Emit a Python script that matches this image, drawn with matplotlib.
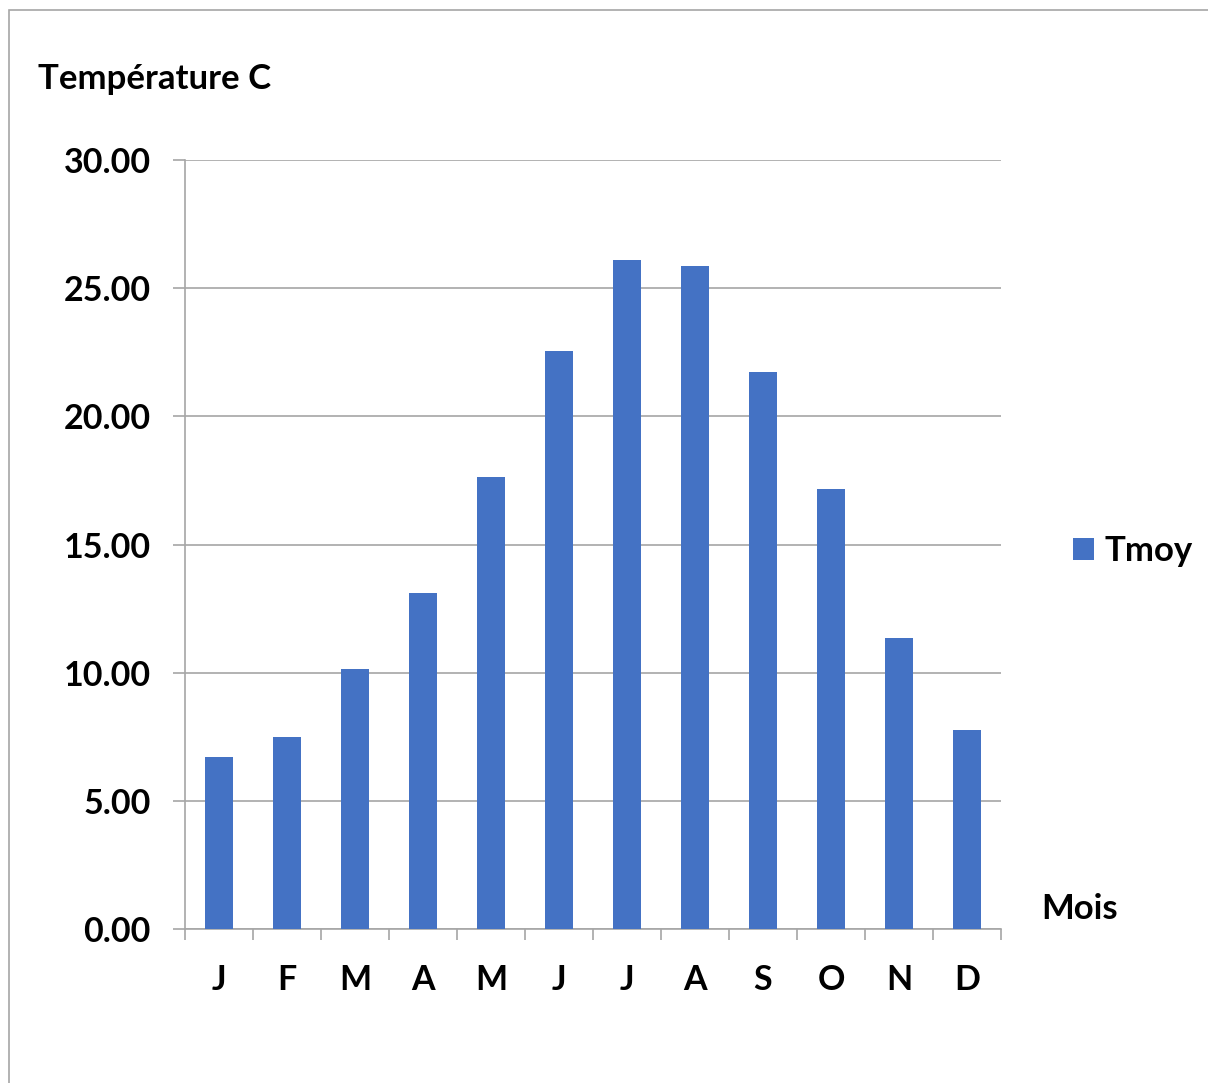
import numpy as np
import matplotlib.pyplot as plt
from matplotlib.patches import Rectangle

# Monthly mean temperatures
mois = ['J', 'F', 'M', 'A', 'M', 'J', 'J', 'A', 'S', 'O', 'N', 'D']
tmoy = [6.71, 7.49, 10.14, 13.11, 17.63, 22.55, 26.10, 25.87, 21.73, 17.17, 11.35, 7.76]
y_ticks = [0, 5, 10, 15, 20, 25, 30]

plt.rcParams['font.family'] = ['Lato', 'DejaVu Sans']
plt.rcParams['font.weight'] = 'bold'

W, H = 1208, 1083
fs = 24.5
fig = plt.figure(figsize=(W / 100, H / 100), dpi=100)
ax = fig.add_axes([185 / W, 1 - 929 / H, (1001 - 185) / W, (929 - 160) / H])

grey = '#a6a6a6'
x = np.arange(len(mois))
ax.bar(x, tmoy, width=0.4, color='#4472C4', label='Tmoy', zorder=3)

ax.set_xlim(-0.5, len(mois) - 0.5)
ax.set_ylim(0, 30)
ax.set_yticks(y_ticks)
ax.set_yticklabels([f"{v:.2f}" for v in y_ticks], fontsize=fs, fontweight='bold')
ax.yaxis.grid(True, color=grey, linewidth=1.2, zorder=0)

# boundaries as major ticks, labels on minor ticks
ax.set_xticks(np.arange(-0.5, len(mois), 1.0))
ax.set_xticklabels([])
ax.set_xticks(x, minor=True)
ax.set_xticklabels(mois, minor=True, fontsize=fs, fontweight='bold')
ax.tick_params(axis='x', which='major', length=8, color=grey, width=1.2)
ax.tick_params(axis='x', which='minor', length=0, pad=25)
ax.tick_params(axis='y', length=8.5, color=grey, width=1.2, pad=16)

for s in ['top', 'right']:
    ax.spines[s].set_visible(False)
for s in ['left', 'bottom']:
    ax.spines[s].set_color(grey)
    ax.spines[s].set_linewidth(1.2)

fig.text(38 / W, 1 - 79 / H, 'Température C', fontsize=fs + 0.5, fontweight='bold', va='center', ha='left')
fig.text(1041 / W, 1 - 909 / H, 'Mois', fontsize=fs + 0.5, fontweight='bold', va='center', ha='left')

leg = fig.legend(loc='center left', bbox_to_anchor=(1059 / W, 1 - 551 / H), frameon=False,
                 prop={'size': fs + 0.5, 'weight': 'bold'}, handlelength=0.62, handleheight=0.62,
                 handletextpad=0.3, borderaxespad=0)

# outer chart frame
fig.patches.append(Rectangle((9 / W, -0.1), 1.2, 1 - 10 / H + 0.1, transform=fig.transFigure,
                             fill=False, edgecolor=grey, linewidth=1.2))

fig.savefig('out.png', dpi=100)
